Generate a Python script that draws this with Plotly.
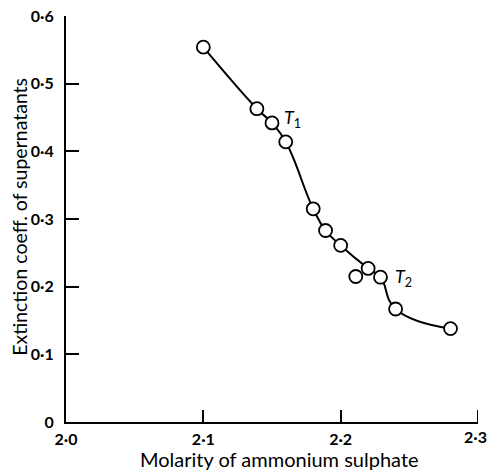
import plotly.graph_objects as go

molarity = [2.100, 2.139, 2.150, 2.160, 2.180, 2.189, 2.200, 2.211, 2.220, 2.229, 2.240, 2.280]
extinction = [0.554, 0.463, 0.442, 0.414, 0.315, 0.283, 0.261, 0.215, 0.227, 0.214, 0.167, 0.138]
# points on the fitted curve (the 2.211 point lies off it)
on_curve = [True, True, True, True, True, True, True, False, True, True, True, True]

x_ticks = [2.0, 2.1, 2.2, 2.3]
x_ticktext = ["2·0", "2·1", "2·2", "2·3"]
y_ticks = [0, 0.1, 0.2, 0.3, 0.4, 0.5, 0.6]
y_ticktext = ["0", "0·1", "0·2", "0·3", "0·4", "0·5", "0·6"]

x_title = "Molarity of ammonium sulphate"
y_title = "Extinction coeff. of supernatants"

labels = ["<i>T</i><sub>1</sub>", "<i>T</i><sub>2</sub>"]
label_x = [2.1570, 2.2380]
label_y = [0.448, 0.213]

FONT = "Lato"

curve_x = [m for m, c in zip(molarity, on_curve) if c]
curve_y = [e for e, c in zip(extinction, on_curve) if c]

fig = go.Figure()
fig.add_trace(go.Scatter(
    x=curve_x, y=curve_y, mode="lines",
    line=dict(color="black", width=2, shape="spline", smoothing=1.3),
    hoverinfo="skip", showlegend=False))
fig.add_trace(go.Scatter(
    x=molarity, y=extinction, mode="markers",
    marker=dict(size=13, color="white", line=dict(color="black", width=1.8)),
    showlegend=False))

for t, lx, ly in zip(labels, label_x, label_y):
    fig.add_annotation(x=lx, y=ly, text=t, showarrow=False, xanchor="left",
                       yanchor="middle", font=dict(family=FONT, size=18, color="black"))

# last x tick label, kept inside the page
fig.add_annotation(x=x_ticks[-1], y=0, yref="y", text=x_ticktext[-1], showarrow=False,
                   xanchor="center", yanchor="top", xshift=-3, yshift=-3,
                   font=dict(family=FONT, size=16, color="black", weight="bold"))
# axis titles
fig.add_annotation(x=0.519, y=-0.091, xref="paper", yref="paper", text=x_title,
                   showarrow=False, xanchor="center", yanchor="middle",
                   font=dict(family=FONT, size=20, color="black"))
fig.add_annotation(x=-0.112, y=0.505, xref="paper", yref="paper", text=y_title,
                   showarrow=False, xanchor="center", yanchor="middle", textangle=-90,
                   font=dict(family=FONT, size=19.5, color="black"))

fig.update_layout(
    width=488, height=470,
    margin=dict(l=66, r=10, t=16, b=48),
    paper_bgcolor="white", plot_bgcolor="white",
    font=dict(family=FONT, color="black"),
)
fig.update_xaxes(
    range=[2.0, 2.3], tickvals=x_ticks[:-1], ticktext=x_ticktext[:-1], automargin=False,
    showgrid=False, zeroline=False, showline=True, linecolor="black", linewidth=2,
    ticks="inside", ticklen=12, tickwidth=2, tickcolor="black",
    ticklabelstandoff=2,
    tickfont=dict(family=FONT, size=16, color="black", weight="bold"),
)
fig.update_yaxes(
    range=[0, 0.6], tickvals=y_ticks, ticktext=y_ticktext, automargin=False,
    showgrid=False, zeroline=False, showline=True, linecolor="black", linewidth=2,
    ticks="inside", ticklen=13, tickwidth=2, tickcolor="black",
    ticklabeloverflow="allow", ticklabelstandoff=7,
    tickfont=dict(family=FONT, size=16, color="black", weight="bold"),
)
# tick mark at 2.3 (labels of the axis stop at 2.2, the 2.3 label is an annotation)
fig.add_shape(type="line", x0=x_ticks[-1], x1=x_ticks[-1], y0=0, y1=12, xref="x",
              yref="y", ysizemode="pixel", yanchor=0,
              line=dict(color="black", width=2))

fig.write_html("out.html")
